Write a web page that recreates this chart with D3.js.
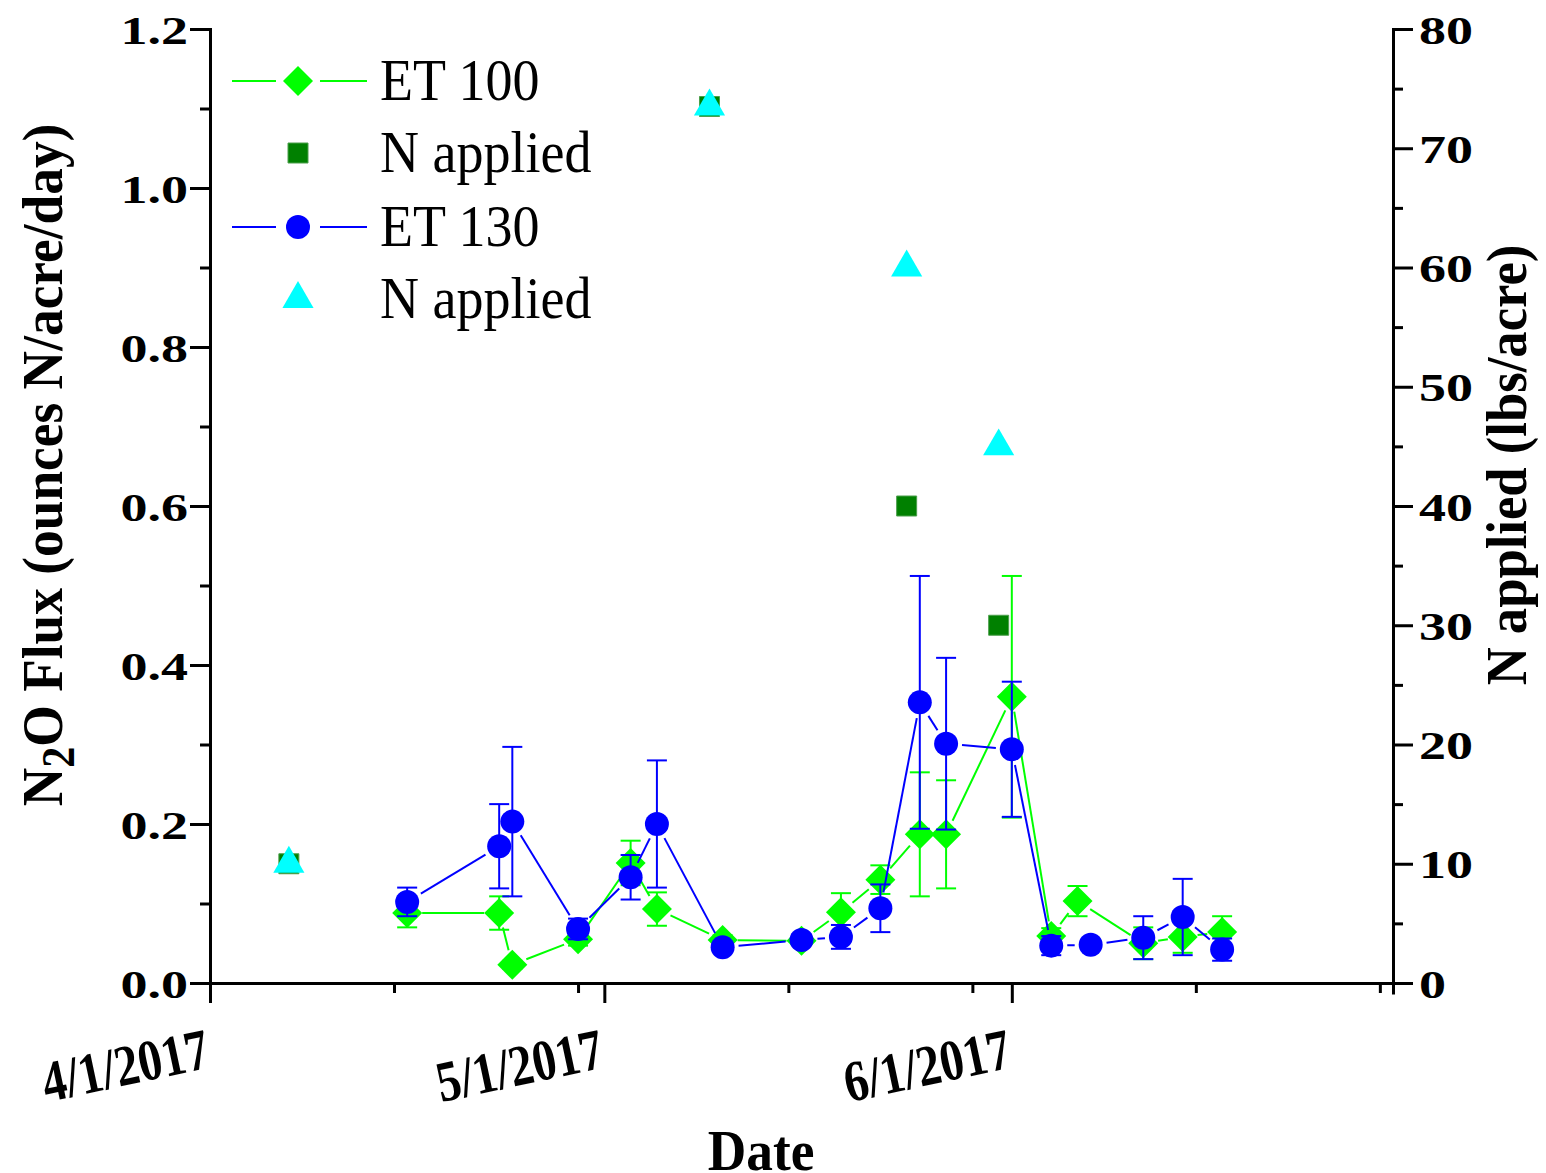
<!DOCTYPE html>
<html>
<head>
<meta charset="utf-8">
<style>
  body { margin: 0; background: #fff; }
  text { font-family: "Liberation Serif", "Times New Roman", serif; }
</style>
</head>
<body>
  <div id="chart"></div>
  <script src="https://d3js.org/d3.v7.min.js"></script>
  <script>
    // data
    var et100Dates = ["4/16/2017", "4/23/2017", "4/24/2017", "4/29/2017", "5/3/2017", "5/5/2017",
      "5/10/2017", "5/16/2017", "5/19/2017", "5/22/2017", "5/25/2017", "5/27/2017",
      "6/1/2017", "6/4/2017", "6/6/2017", "6/11/2017", "6/14/2017", "6/17/2017"];
    var et100Flux = [0.088, 0.088, 0.023, 0.055, 0.151, 0.093, 0.054, 0.053, 0.089, 0.130,
      0.187, 0.187, 0.360, 0.059, 0.103, 0.050, 0.058, 0.064];
    var et100Err = [0.018, 0.021, 0.005, 0.008, 0.028, 0.021, 0.006, 0.005, 0.024, 0.018,
      0.078, 0.068, 0.152, 0.010, 0.019, 0.020, 0.020, 0.020];

    var et130Dates = ["4/16/2017", "4/23/2017", "4/24/2017", "4/29/2017", "5/3/2017", "5/5/2017",
      "5/10/2017", "5/16/2017", "5/19/2017", "5/22/2017", "5/25/2017", "5/27/2017",
      "6/1/2017", "6/4/2017", "6/7/2017", "6/11/2017", "6/14/2017", "6/17/2017"];
    var et130Flux = [0.102, 0.172, 0.203, 0.068, 0.133, 0.200, 0.045, 0.054, 0.058, 0.094,
      0.353, 0.301, 0.294, 0.047, 0.048, 0.057, 0.083, 0.042];
    var et130Err = [0.018, 0.053, 0.094, 0.013, 0.028, 0.080, 0.005, 0.005, 0.015, 0.030,
      0.159, 0.108, 0.085, 0.012, 0.005, 0.027, 0.048, 0.014];

    var nDates100 = ["4/7/2017", "5/9/2017", "5/24/2017", "5/31/2017"];
    var nApplied100 = [10, 73.5, 40, 30];
    var nDates130 = ["4/7/2017", "5/9/2017", "5/24/2017", "5/31/2017"];
    var nApplied130 = [10, 73.5, 60, 45];

    var xMajor = ["4/1/2017", "5/1/2017", "6/1/2017"];
    var xMinor = ["4/15/2017", "4/29/2017", "5/15/2017", "5/29/2017", "6/15/2017", "6/29/2017"];
    var yMajor = [0, 0.2, 0.4, 0.6, 0.8, 1.0, 1.2];
    var yMinor = [0.1, 0.3, 0.5, 0.7, 0.9, 1.1];
    var y2Major = [0, 10, 20, 30, 40, 50, 60, 70, 80];
    var y2Minor = [5, 15, 25, 35, 45, 55, 65, 75];

    var parseDate = d3.timeParse("%m/%d/%Y");

    var W = 1546, H = 1173;
    var plotLeft = 210, plotRight = 1393, plotTop = 29, plotBottom = 983;

    var x = d3.scaleTime()
      .domain([parseDate("4/1/2017"), parseDate("6/30/2017")])
      .range([plotLeft, plotRight]);
    var y = d3.scaleLinear().domain([0, 1.2]).range([plotBottom, plotTop]);
    var y2 = d3.scaleLinear().domain([0, 80]).range([plotBottom, plotTop]);

    var svg = d3.select("#chart").append("svg")
      .attr("width", W)
      .attr("height", H);

    function stretch(sel, k) {
      sel.each(function() {
        var w = this.getComputedTextLength();
        d3.select(this).attr("textLength", w * k).attr("lengthAdjust", "spacingAndGlyphs");
      });
    }

    function styleAxis(g) {
      g.select(".domain").attr("stroke-width", 3).attr("stroke", "#000").attr("stroke-linecap", "square");
      g.selectAll(".tick line").attr("stroke-width", 3).attr("stroke", "#000");
    }

    // ---- axes ----
    var gy = svg.append("g")
      .attr("transform", "translate(" + plotLeft + ",0)")
      .call(d3.axisLeft(y).tickValues(yMajor).tickSize(20).tickSizeOuter(0).tickPadding(2)
        .tickFormat(d3.format(".1f")));
    styleAxis(gy);
    gy.selectAll(".tick text")
      .attr("fill", "#000")
      .style("font-size", "40px")
      .style("font-weight", "bold")
      .attr("dy", "0.35em")
      .call(stretch, 1.35);

    svg.append("g")
      .attr("transform", "translate(" + plotLeft + ",0)")
      .call(d3.axisLeft(y).tickValues(yMinor).tickSize(10).tickFormat(""))
      .call(styleAxis);

    var gy2 = svg.append("g")
      .attr("transform", "translate(" + plotRight + ",0)")
      .call(d3.axisRight(y2).tickValues(y2Major).tickSize(20).tickSizeOuter(0).tickPadding(6));
    styleAxis(gy2);
    gy2.selectAll(".tick text")
      .attr("fill", "#000")
      .style("font-size", "40px")
      .style("font-weight", "bold")
      .attr("dy", "0.35em")
      .call(stretch, 1.35);

    svg.append("g")
      .attr("transform", "translate(" + plotRight + ",0)")
      .call(d3.axisRight(y2).tickValues(y2Minor).tickSize(10).tickFormat(""))
      .call(styleAxis);

    var gx = svg.append("g")
      .attr("transform", "translate(0," + plotBottom + ")")
      .call(d3.axisBottom(x).tickValues(xMajor.map(parseDate)).tickSize(20).tickSizeOuter(0).tickFormat(""));
    styleAxis(gx);

    svg.append("g")
      .attr("transform", "translate(0," + plotBottom + ")")
      .call(d3.axisBottom(x).tickValues(xMinor.map(parseDate)).tickSize(10).tickFormat(""))
      .call(styleAxis);

    // rotated date labels
    svg.selectAll(".xlab")
      .data(xMajor)
      .enter()
      .append("text")
      .attr("class", "xlab")
      .attr("transform", function(d) {
        return "translate(" + (x(parseDate(d)) + 2) + ",1067) rotate(-12)";
      })
      .attr("text-anchor", "end")
      .style("font-size", "58px")
      .style("font-weight", "bold")
      .text(function(d) { return d; })
      .call(stretch, 0.82);

    // axis titles
    svg.append("text")
      .attr("transform", "translate(761,1170)")
      .attr("text-anchor", "middle")
      .style("font-size", "58px")
      .style("font-weight", "bold")
      .text("Date")
      .call(stretch, 0.92);

    var yTitle = svg.append("text")
      .attr("transform", "translate(62,465) rotate(-90)")
      .attr("text-anchor", "middle")
      .style("font-size", "58px")
      .style("font-weight", "bold");
    yTitle.append("tspan").text("N");
    yTitle.append("tspan").attr("dy", "0.25em").style("font-size", "46px").text("2");
    yTitle.append("tspan").attr("dy", "-0.2em").text("O Flux (ounces N/acre/day)");
    yTitle.call(stretch, 0.92);

    svg.append("text")
      .attr("transform", "translate(1526,465) rotate(-90)")
      .attr("text-anchor", "middle")
      .style("font-size", "56px")
      .style("font-weight", "bold")
      .text("N applied (lbs/acre)")
      .call(stretch, 0.94);

    // ---- series ----
    function makePoints(dates, vals, errs) {
      return dates.map(function(d, i) {
        return { date: parseDate(d), v: vals[i], e: errs ? errs[i] : 0 };
      });
    }

    // lines with small gaps around the markers
    function drawGapLine(pts, color, gap) {
      var segs = [];
      for (var i = 1; i < pts.length; i++) {
        var x0 = x(pts[i - 1].date), y0 = y(pts[i - 1].v);
        var x1 = x(pts[i].date), y1 = y(pts[i].v);
        var len = Math.sqrt((x1 - x0) * (x1 - x0) + (y1 - y0) * (y1 - y0));
        if (len <= 2 * gap) continue;
        var ux = (x1 - x0) / len, uy = (y1 - y0) / len;
        segs.push([x0 + ux * gap, y0 + uy * gap, x1 - ux * gap, y1 - uy * gap]);
      }
      svg.append("g").selectAll("line")
        .data(segs)
        .enter()
        .append("line")
        .attr("x1", function(s) { return s[0]; })
        .attr("y1", function(s) { return s[1]; })
        .attr("x2", function(s) { return s[2]; })
        .attr("y2", function(s) { return s[3]; })
        .attr("stroke", color)
        .attr("stroke-width", 2);
    }

    function drawErrors(pts, color) {
      var g = svg.append("g").attr("stroke", color).attr("stroke-width", 2);
      pts.forEach(function(p) {
        var cx = x(p.date), yt = y(p.v + p.e), yb = y(p.v - p.e);
        g.append("line").attr("x1", cx).attr("x2", cx).attr("y1", yt).attr("y2", yb);
        g.append("line").attr("x1", cx - 10).attr("x2", cx + 10).attr("y1", yt).attr("y2", yt);
        g.append("line").attr("x1", cx - 10).attr("x2", cx + 10).attr("y1", yb).attr("y2", yb);
      });
    }

    var diamond = "M0,-15L15,0L0,15L-15,0Z";
    var square = "M-10,-10H10V10H-10Z";
    var triangle = d3.symbol().type(d3.symbolTriangle).size(420)();

    var et100 = makePoints(et100Dates, et100Flux, et100Err);
    var et130 = makePoints(et130Dates, et130Flux, et130Err);

    // ET 100
    drawGapLine(et100, "#00ff00", 15);
    drawErrors(et100, "#00ff00");
    svg.append("g").selectAll("path")
      .data(et100)
      .enter()
      .append("path")
      .attr("d", diamond)
      .attr("transform", function(d) { return "translate(" + x(d.date) + "," + y(d.v) + ")"; })
      .attr("fill", "#00ff00");

    // N applied (ET 100)
    svg.append("g").selectAll("path")
      .data(nDates100.map(function(d, i) { return { date: parseDate(d), v: nApplied100[i] }; }))
      .enter()
      .append("path")
      .attr("d", square)
      .attr("transform", function(d) { return "translate(" + x(d.date) + "," + y2(d.v) + ")"; })
      .attr("fill", "#008000")
      .attr("stroke", "#4c9f4c")
      .attr("stroke-width", 1);

    // ET 130
    drawGapLine(et130, "#0000ff", 16);
    drawErrors(et130, "#0000ff");
    svg.append("g").selectAll("circle")
      .data(et130)
      .enter()
      .append("circle")
      .attr("cx", function(d) { return x(d.date); })
      .attr("cy", function(d) { return y(d.v); })
      .attr("r", 12)
      .attr("fill", "#0000ff");

    // N applied (ET 130)
    svg.append("g").selectAll("path")
      .data(nDates130.map(function(d, i) { return { date: parseDate(d), v: nApplied130[i] }; }))
      .enter()
      .append("path")
      .attr("d", triangle)
      .attr("transform", function(d) { return "translate(" + x(d.date) + "," + y2(d.v) + ")"; })
      .attr("fill", "#00ffff");

    // ---- legend ----
    var legendItems = [
      { label: "ET 100", color: "#00ff00", line: true, shape: "diamond" },
      { label: "N applied", color: "#008000", line: false, shape: "square" },
      { label: "ET 130", color: "#0000ff", line: true, shape: "circle" },
      { label: "N applied", color: "#00ffff", line: false, shape: "triangle" }
    ];
    var legendY = [81, 153, 227, 299];

    var lg = svg.append("g").selectAll("g")
      .data(legendItems)
      .enter()
      .append("g")
      .attr("transform", function(d, i) { return "translate(298," + legendY[i] + ")"; });

    lg.filter(function(d) { return d.line; })
      .each(function(d) {
        var g = d3.select(this);
        g.append("line").attr("x1", -66).attr("x2", -22).attr("stroke", d.color).attr("stroke-width", 2);
        g.append("line").attr("x1", 22).attr("x2", 69).attr("stroke", d.color).attr("stroke-width", 2);
      });

    lg.each(function(d) {
      var g = d3.select(this);
      if (d.shape == "circle") {
        g.append("circle").attr("r", 12).attr("fill", d.color);
      } else if (d.shape == "diamond") {
        g.append("path").attr("d", diamond).attr("fill", d.color);
      } else if (d.shape == "square") {
        g.append("path").attr("d", square).attr("fill", d.color).attr("stroke", "#4c9f4c").attr("stroke-width", 1);
      } else {
        g.append("path").attr("d", triangle).attr("fill", d.color);
      }
    });

    lg.append("text")
      .attr("x", 82)
      .attr("y", 19)
      .style("font-size", "60px")
      .attr("fill", "#000")
      .text(function(d) { return d.label; })
      .call(stretch, 0.9);
  </script>
</body>
</html>
